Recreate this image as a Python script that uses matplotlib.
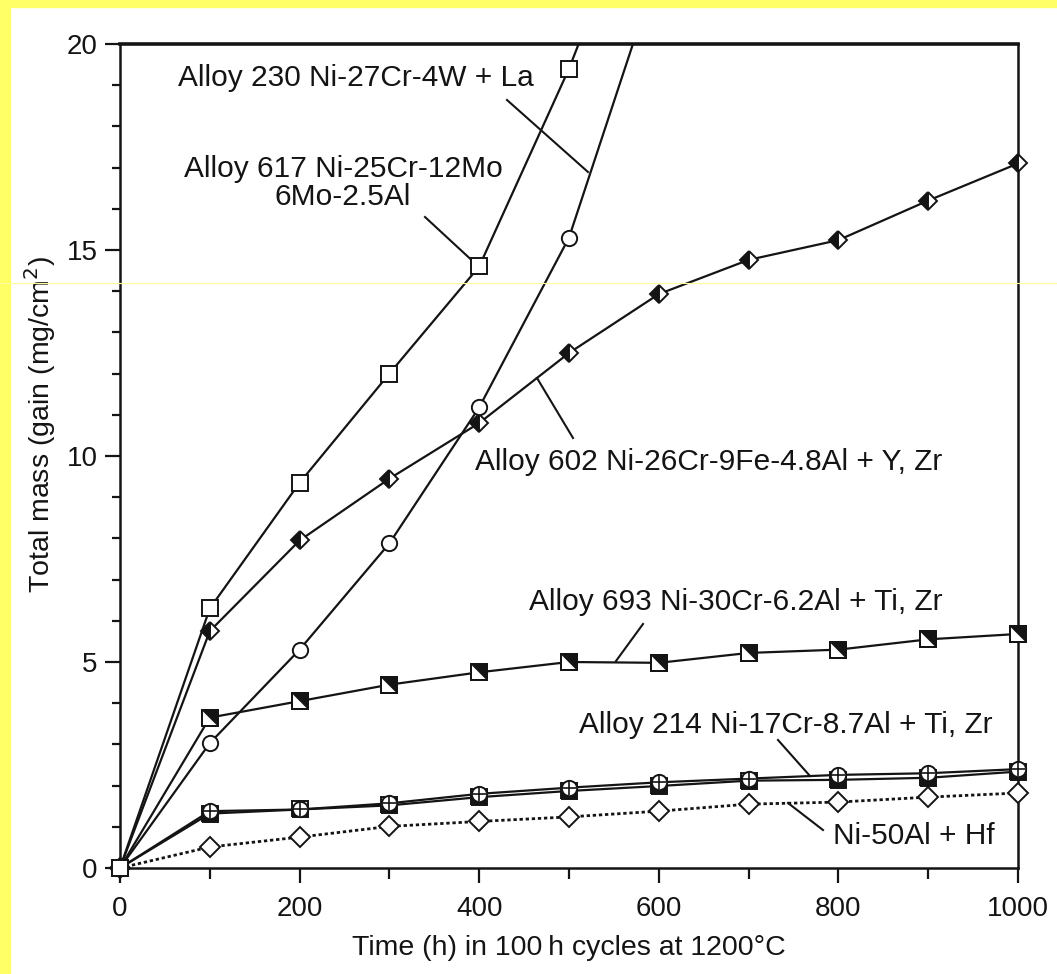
import matplotlib
matplotlib.use("Agg")
import matplotlib.pyplot as plt
from matplotlib.patches import Rectangle
from matplotlib.lines import Line2D
from matplotlib.path import Path
import numpy as np

plt.rcParams['font.family'] = ['Liberation Sans', 'DejaVu Sans']

# ---------------- data ----------------
hours = [0, 100, 200, 300, 400, 500, 600, 700, 800, 900, 1000]
hours_fast = [0, 100, 200, 300, 400, 500, 600]

alloy230 = [0, 6.3, 9.35, 12.0, 14.6, 19.4, 25.0]
alloy617 = [0, 3.03, 5.3, 7.88, 11.18, 15.3, 21.9]
alloy602 = [0, 5.75, 7.95, 9.45, 10.8, 12.5, 13.93, 14.76, 15.24, 16.2, 17.1]
alloy693 = [0, 3.65, 4.05, 4.45, 4.75, 5.0, 4.98, 5.22, 5.3, 5.55, 5.68]
alloy214 = [0, 1.38, 1.42, 1.57, 1.8, 1.95, 2.08, 2.17, 2.26, 2.3, 2.4]
alloy214b = [0, 1.32, 1.42, 1.52, 1.72, 1.87, 1.99, 2.12, 2.14, 2.19, 2.34]
ni50al = [0, 0.51, 0.75, 1.01, 1.13, 1.24, 1.38, 1.55, 1.6, 1.72, 1.82]

labels = {
    "230": "Alloy 230 Ni-27Cr-4W + La",
    "617": "Alloy 617 Ni-25Cr-12Mo\n6Mo-2.5Al",
    "602": "Alloy 602 Ni-26Cr-9Fe-4.8Al + Y, Zr",
    "693": "Alloy 693 Ni-30Cr-6.2Al + Ti, Zr",
    "214": "Alloy 214 Ni-17Cr-8.7Al + Ti, Zr",
    "nial": "Ni-50Al + Hf",
}

# ---------------- figure ----------------
W, H = 1057, 974
fig = plt.figure(figsize=(W / 100, H / 100), dpi=100, facecolor='white')
L, R, T, B = 120, 1018, 44, 868
ax = fig.add_axes([L / W, 1 - B / H, (R - L) / W, (B - T) / H])
ax.set_xlim(0, 1000)
ax.set_ylim(0, 20)

ink = '#141414'
fig.patches.append(Rectangle((0, 0), 10 / W, 1, transform=fig.transFigure,
                             color='#FFFF66', zorder=-10))
fig.patches.append(Rectangle((0, 1 - 7 / H), 1, 7 / H, transform=fig.transFigure,
                             color='#FFFF66', zorder=-10))
fig.add_artist(Line2D([0, 1], [1 - 283 / H] * 2, transform=fig.transFigure,
                      color='#FFFF99', lw=0.8))

clip_rect = Rectangle((-0.1, -0.1), 1.2, 1.1, transform=ax.transAxes)

def draw(x, y, **kw):
    lns = ax.plot(x, y, **kw)
    for ln in lns:
        ln.set_clip_path(clip_rect)
    return lns

lw = 1.6
mew = 1.4

# Ni-50Al + Hf (dotted, open diamonds)
draw(hours, ni50al, color=ink, lw=2.0, linestyle=(0, (1.2, 1.0)), marker='D', ms=10,
     mfc='white', mec=ink, mew=mew, zorder=3)
# second Alloy 214 series (bottom-filled squares)
draw(hours, alloy214b, color=ink, lw=lw, marker='s', ms=11, fillstyle='bottom',
     mfc=ink, mfcalt='white', mec=ink, mew=mew, zorder=3)
# Alloy 214 (circle with plus)
draw(hours, alloy214, color=ink, lw=lw, marker='o', ms=11, mfc='white', mec=ink,
     mew=mew, zorder=4)
draw(hours, alloy214, color=ink, lw=0, marker='+', ms=10, mec=ink, mew=1.2, zorder=4)
# Alloy 693 (square, upper-right triangle black)
tri = Path([(-1, 1), (1, 1), (1, -1), (-1, 1)],
           [Path.MOVETO, Path.LINETO, Path.LINETO, Path.CLOSEPOLY])
draw(hours, alloy693, color=ink, lw=lw, marker='s', ms=12, mfc='white', mec=ink,
     mew=mew, zorder=4)
draw(hours, alloy693, lw=0, marker=tri, ms=12, mfc=ink, mec=ink, mew=0.5, zorder=4)
draw(hours, alloy693, lw=0, marker='s', ms=12, mfc='none', mec=ink, mew=mew, zorder=4)
# Alloy 602 (half filled diamonds)
draw(hours, alloy602, color=ink, lw=lw, marker='D', ms=9.5, fillstyle='left',
     mfc=ink, mfcalt='white', mec=ink, mew=mew, zorder=5)
# Alloy 617 (open circles)
draw(hours_fast, alloy617, color=ink, lw=lw, marker='o', ms=11, mfc='white',
     mec=ink, mew=mew, zorder=5)
# Alloy 230 (open squares)
draw(hours_fast, alloy230, color=ink, lw=lw, marker='s', ms=12, mfc='white',
     mec=ink, mew=mew, zorder=6)

# ---------------- leaders & labels ----------------
def px2d(px, py):
    return (px - L) / (R - L) * 1000, (B - py) / (B - T) * 20

def leader(p0, p1):
    (x0, y0), (x1, y1) = px2d(*p0), px2d(*p1)
    ax.add_line(Line2D([x0, x1], [y0, y1], color=ink, lw=1.5, zorder=2))

leader((507, 100), (588, 172))
leader((425, 217), (478, 266))
leader((537, 378), (573, 438))
leader((643, 624), (616, 661))
leader((778, 740), (810, 776))
leader((788, 803), (823, 830))

fs = 21.5
def label(key, px, py, ha='left', **kw):
    x, y = px2d(px, py)
    ax.text(x, y, labels[key], ha=ha, va='center', fontsize=fs, color=ink,
            linespacing=1.0, **kw)

label("230", 178, 78)
label("617", 343, 183, ha='center')
label("602", 475, 462)
label("693", 529, 602)
label("214", 579, 725)
label("nial", 833, 836)

# ---------------- axes styling ----------------
for s in ['left', 'bottom', 'right']:
    ax.spines[s].set_linewidth(1.8)
    ax.spines[s].set_color(ink)
ax.spines['top'].set_linewidth(2.6)
ax.spines['top'].set_color(ink)

ax.set_xticks([0, 200, 400, 600, 800, 1000])
ax.set_xticks([100, 300, 500, 700, 900], minor=True)
ax.set_yticks([0, 5, 10, 15, 20])
ax.set_yticks([1, 2, 3, 4, 6, 7, 8, 9, 11, 12, 13, 14, 16, 17, 18, 19], minor=True)
ax.tick_params(axis='x', which='major', direction='out', length=11, width=1.6,
               colors=ink, labelsize=20, pad=9)
ax.tick_params(axis='x', which='minor', direction='out', length=8, width=1.6, colors=ink)
ax.tick_params(axis='y', which='major', direction='out', length=11, width=1.6,
               colors=ink, labelsize=20, pad=5)
ax.tick_params(axis='y', which='minor', direction='out', length=6, width=1.6, colors=ink)

ax.set_xlabel("Time (h) in 100\u2009h cycles at 1200°C", fontsize=20.5, color=ink)
ax.set_ylabel("Total mass (gain (mg/cm$^2$)", fontsize=20.5, color=ink)
ax.xaxis.set_label_coords(0.5, (B - 948) / (B - T))
ax.xaxis.label.set_verticalalignment('center')
ax.yaxis.set_label_coords((40 - L) / (R - L), (B - 424) / (B - T))
ax.yaxis.label.set_verticalalignment('center')

fig.savefig("out.png", dpi=100, facecolor='white')
